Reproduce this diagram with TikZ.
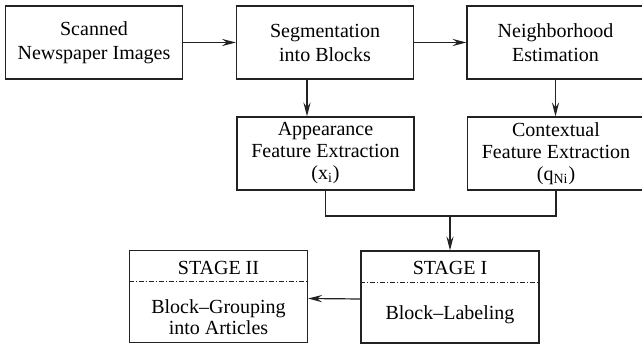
\documentclass[tikz,border=0pt]{standalone}
\usepackage{fontspec}
\setmainfont{LiberationSerif}[
  Extension=.ttf, UprightFont=*-Regular, BoldFont=*-Bold,
  ItalicFont=*-Italic, BoldItalicFont=*-BoldItalic]
\usetikzlibrary{arrows.meta, positioning, calc}
\definecolor{lineDark}{HTML}{222222}

\begin{document}
\begin{tikzpicture}[
    x=0.5pt, y=-0.5pt,
    box/.style={rectangle, draw=lineDark, line width=0.6pt, minimum width=88.5pt,
                minimum height=36.5pt, align=center, inner sep=0pt,
                font=\fontsize{10}{12}\selectfont},
    tallbox/.style={box, font=\fontsize{10}{11}\selectfont},
    stagebox/.style={box, minimum width=89pt, minimum height=46pt},
    stagetext/.style={align=center, inner sep=0pt, font=\fontsize{10}{10.5}\selectfont},
    divider/.style={lineDark, line width=0.5pt,
                    dash pattern=on 2.5pt off 1pt on 0.5pt off 1pt},
    arr/.style={-{Stealth[length=7pt, width=3.6pt, inset=2.5pt]}, line width=0.6pt, lineDark},
    joinline/.style={line width=0.6pt, lineDark}
  ]
    \useasboundingbox (0,0) rectangle (642,346);

    \node[box] (scan) at (94,42.5) {Scanned\\Newspaper Images};
    \node[box] (seg) at (325,42.5) {Segmentation\\into Blocks};
    \node[box] (neigh) at (555.5,42.5) {Neighborhood\\Estimation};

    \node[tallbox] (app) at (325.5,153.5) {Appearance\\Feature Extraction\\(x\textsubscript{i})};
    \node[tallbox] (ctx) at (556,153.5) {Contextual\\Feature Extraction\\(q\textsubscript{Ni})};

    \node[stagebox] (st1) at (450,297) {};
    \node[stagebox] (st2) at (218.5,296.5) {};
    \node[stagetext] (st1head) at (450,268) {STAGE I};
    \node[stagetext] (st1body) at (450,315) {Block--Labeling};
    \node[stagetext] (st2head) at (218.5,268) {STAGE II};
    \node[stagetext] (st2body) at (218.5,317) {Block--Grouping\\into Articles};
    \draw[divider] ([yshift=-16pt]st1.north west) -- ([yshift=-16pt]st1.north east);
    \draw[divider] ([yshift=-16pt]st2.north west) -- ([yshift=-16pt]st2.north east);

    \coordinate (merge) at (450,216);

    \draw[arr] (scan) -- (seg);
    \draw[arr] (seg) -- (neigh);
    \draw[arr] ([xshift=-9pt]seg.south) -- ([xshift=-9pt]seg.south |- app.north);
    \draw[arr] (neigh.south) -- (neigh.south |- ctx.north);
    \draw[joinline] (app.south) |- (merge) -| (ctx.south);
    \draw[arr] (merge) -- (st1.north);
    \draw[arr] ([yshift=-1pt]st1.west) -- ([yshift=-1pt]st2.east);
  \end{tikzpicture}
\end{document}
